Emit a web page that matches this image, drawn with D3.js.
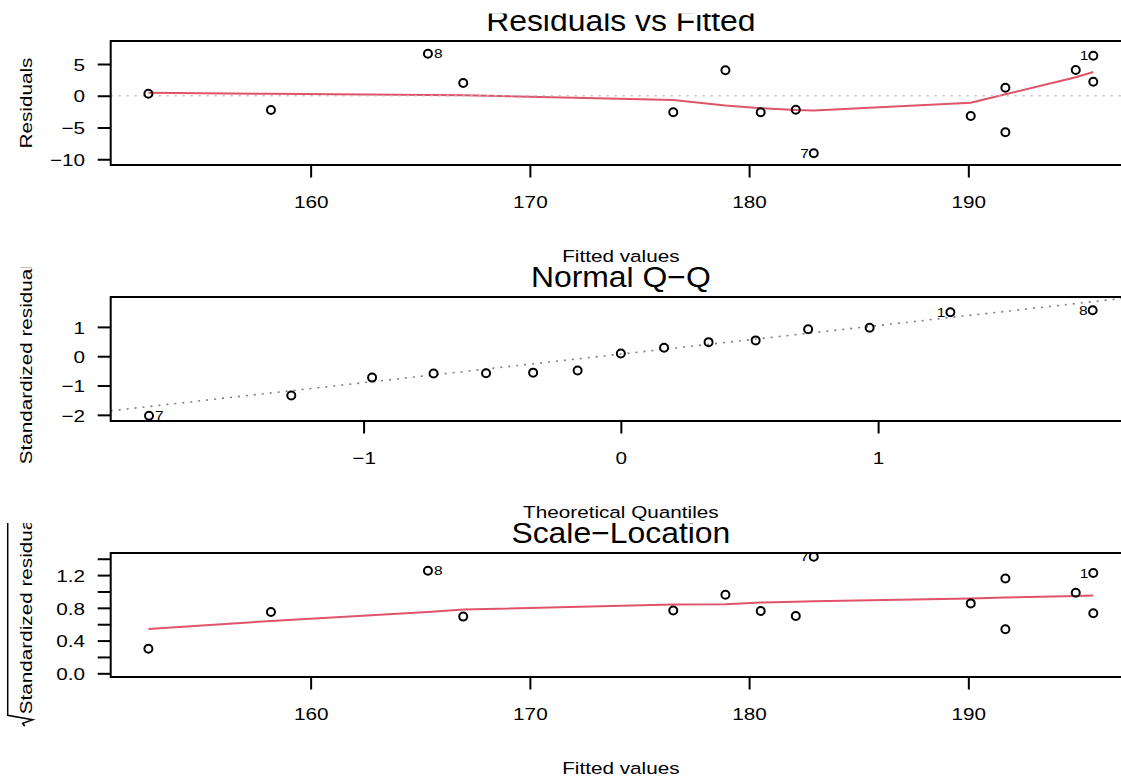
<!DOCTYPE html>
<html>
<head>
<meta charset="utf-8">
<script src="https://cdn.jsdelivr.net/npm/d3@7"></script>
<style>
  body { margin: 0; background: #fff; }
  svg { display: block; }
</style>
</head>
<body>
<svg id="chart" width="1121" height="779"></svg>
<script>
// ---- Regression diagnostics for a 15-observation linear model ----
// Observations ordered by fitted value.
const fitted       = [152.60, 158.19, 165.35, 166.96, 176.54, 178.92, 180.53, 182.13, 182.95, 190.11, 191.69, 191.69, 194.90, 195.70, 195.70];
const residuals    = [0.31, -2.25, 6.60, 2.00, -2.61, 3.99, -2.61, -2.20, -9.06, -3.19, 1.26, -5.75, 4.04, 6.29, 2.20];
const stdResiduals = [0.09, -0.56, 1.57, 0.48, -0.59, 0.92, -0.58, -0.49, -2.03, -0.73, 0.29, -1.34, 0.97, 1.50, 0.54];
const pointLabels  = [null, null, "8", null, null, null, null, null, "7", null, null, null, null, "1", null];

// Smoothed trend (lowess) through residuals and through sqrt|std. residuals|
const residSmooth  = [0.47, 0.30, 0.12, 0.08, -0.68, -1.55, -1.98, -2.25, -2.32, -1.10, 0.22, 0.22, 2.89, 3.73, 3.73];
const scaleSmooth  = [0.54, 0.64, 0.75, 0.78, 0.84, 0.845, 0.865, 0.875, 0.88, 0.915, 0.925, 0.925, 0.945, 0.95, 0.95];

// Theoretical normal quantiles for n = 15
const theoQuantiles = [-1.834, -1.281, -0.967, -0.728, -0.524, -0.341, -0.168, 0, 0.168, 0.341, 0.524, 0.728, 0.967, 1.281, 1.834];

// Axis ticks
const fittedTicks = [160, 170, 180, 190];
const residTicks  = [-10, -5, 0, 5];
const qqXTicks    = [-1, 0, 1];
const qqYTicks    = [-2, -1, 0, 1];
const slTicks     = [0, 0.2, 0.4, 0.6, 0.8, 1.0, 1.2, 1.4];
const slLabeled   = [0, 0.4, 0.8, 1.2];

const titles = ["Residuals vs Fitted", "Normal Q\u2212Q", "Scale\u2212Location"];
const xLabels = ["Fitted values", "Theoretical Quantiles", "Fitted values"];

// ---- layout ----
const W = 1121, H = 779;
const FONT = "'Liberation Sans', Arial, Helvetica, sans-serif";
const SX = 1.19;          // horizontal stretch of the lettering
const AX = 17.4;          // axis text size
const plotLeft = 110.7, plotRight = 1131;
const figTops = [13.5, 267, 523];
const panels = [0, 1, 2].map(k => ({
  k,
  top: 41 + 256 * k,
  bottom: 165 + 256 * k,
  figTop: figTops[k],
  figBottom: k === 2 ? H : figTops[k + 1]
}));

const svg = d3.select("#chart");
const defs = svg.append("defs");

function label(g, x, y, s, o = {}) {
  return g.append("text")
    .attr("transform", `translate(${x},${y}) rotate(${o.rotate || 0}) scale(${o.sx || SX},1)`)
    .attr("text-anchor", o.anchor || "middle")
    .attr("font-family", FONT)
    .attr("font-size", o.size || AX)
    .attr("fill", "#000")
    .text(s);
}

function makePanel(p) {
  defs.append("clipPath").attr("id", "fig" + p.k).append("rect")
    .attr("x", 0).attr("y", p.figTop).attr("width", W).attr("height", p.figBottom - p.figTop);
  defs.append("clipPath").attr("id", "plot" + p.k).append("rect")
    .attr("x", plotLeft).attr("y", p.top).attr("width", plotRight - plotLeft).attr("height", p.bottom - p.top);
  const fig = svg.append("g").attr("clip-path", `url(#fig${p.k})`);
  const plot = fig.append("g").attr("clip-path", `url(#plot${p.k})`);
  return { fig, plot };
}

function drawAxes(fig, p, x, y, xt, yt, yFmt) {
  const ax = fig.append("g").attr("transform", `translate(0,${p.bottom})`)
    .call(d3.axisBottom(x).tickValues(xt).tickSize(12.5).tickFormat(d3.format("")));
  ax.select(".domain").remove();
  ax.selectAll(".tick line").attr("stroke", "#000").attr("stroke-width", 2);
  ax.selectAll(".tick text")
    .attr("y", 43).attr("dy", 0)
    .attr("transform", `scale(${SX},1)`)
    .attr("font-family", FONT).attr("font-size", AX).attr("fill", "#000");

  const ay = fig.append("g").attr("transform", `translate(${plotLeft},0)`)
    .call(d3.axisLeft(y).tickValues(yt).tickSize(13).tickFormat(yFmt));
  ay.select(".domain").remove();
  ay.selectAll(".tick line").attr("stroke", "#000").attr("stroke-width", 2);
  ay.selectAll(".tick text")
    .attr("x", 0).attr("dy", "0.358em")
    .attr("transform", `translate(-25.7,0) scale(${SX},1)`)
    .attr("font-family", FONT).attr("font-size", AX).attr("fill", "#000");

  fig.append("rect")
    .attr("x", plotLeft).attr("y", p.top)
    .attr("width", plotRight - plotLeft).attr("height", p.bottom - p.top)
    .attr("fill", "none").attr("stroke", "#000").attr("stroke-width", 2);
}

function drawPoints(plot, pts, x) {
  plot.selectAll(null).data(pts).join("circle")
    .attr("cx", d => d.px).attr("cy", d => d.py).attr("r", 4)
    .attr("fill", "none").attr("stroke", "#000").attr("stroke-width", 2);
  const mid = d3.mean(x.domain());
  pts.filter(d => d.label).forEach(d => {
    const left = d.xv > mid;
    plot.append("text")
      .attr("transform", `translate(${left ? d.px - 5 : d.px + 6},${d.py + 4.7}) scale(${SX},1)`)
      .attr("text-anchor", left ? "end" : "start")
      .attr("font-family", FONT).attr("font-size", 13).attr("fill", "#000")
      .text(d.label);
  });
}

function titlesFor(fig, p) {
  const cx = (plotLeft + plotRight) / 2;
  label(fig, cx, 30.5 + 256 * p.k, titles[p.k], { size: 29, sx: 1.1 });
  label(fig, cx, 262 + 256 * p.k, xLabels[p.k]);
}

const RED = "#DF536B";
const idx = d3.range(fitted.length);

// ---- Panel 1: Residuals vs Fitted ----
{
  const p = panels[0];
  const { fig, plot } = makePanel(p);
  const x = d3.scaleLinear().domain([150.88, 197.42]).range([plotLeft, plotRight]);
  const y = d3.scaleLinear().domain([-10.9, 8.6]).range([p.bottom, p.top]);
  plot.append("path")
    .attr("d", d3.line().x(i => x(fitted[i])).y(i => y(residSmooth[i]))(idx))
    .attr("fill", "none").attr("stroke", RED).attr("stroke-width", 2);
  plot.append("line")
    .attr("x1", plotLeft).attr("x2", plotRight).attr("y1", y(0)).attr("y2", y(0))
    .attr("stroke", "#BEBEBE").attr("stroke-width", 1.6).attr("stroke-dasharray", "2,6");
  drawPoints(plot, idx.map(i => ({ xv: fitted[i], px: x(fitted[i]), py: y(residuals[i]), label: pointLabels[i] })), x);
  drawAxes(fig, p, x, y, fittedTicks, residTicks, d3.format(""));
  titlesFor(fig, p);
  label(fig, 31.7, (p.top + p.bottom) / 2, "Residuals", { rotate: -90 });
}

// ---- Panel 2: Normal Q-Q ----
{
  const p = panels[1];
  const { fig, plot } = makePanel(p);
  const x = d3.scaleLinear().domain([-1.983, 1.983]).range([plotLeft, plotRight]);
  const y = d3.scaleLinear().domain([-2.21, 2.02]).range([p.bottom, p.top]);
  const order = idx.slice().sort((a, b) => stdResiduals[a] - stdResiduals[b]);
  const sorted = order.map(i => stdResiduals[i]);
  // reference line through the first and third quartiles
  const q1 = d3.quantile(sorted, 0.25), q3 = d3.quantile(sorted, 0.75);
  const z = 0.6745;
  const slope = (q3 - q1) / (2 * z), intercept = q1 + slope * z;
  const [x0, x1] = x.domain();
  plot.append("line")
    .attr("x1", x(x0)).attr("x2", x(x1))
    .attr("y1", y(intercept + slope * x0)).attr("y2", y(intercept + slope * x1))
    .attr("stroke", "#7F7F7F").attr("stroke-width", 1.6).attr("stroke-dasharray", "2,6");
  drawPoints(plot, order.map((i, r) => ({ xv: theoQuantiles[r], px: x(theoQuantiles[r]), py: y(stdResiduals[i]), label: pointLabels[i] })), x);
  drawAxes(fig, p, x, y, qqXTicks, qqYTicks, d3.format(""));
  titlesFor(fig, p);
  label(fig, 31.7, (p.top + p.bottom) / 2, "Standardized residuals", { rotate: -90 });
}

// ---- Panel 3: Scale-Location ----
{
  const p = panels[2];
  const { fig, plot } = makePanel(p);
  const x = d3.scaleLinear().domain([150.88, 197.42]).range([plotLeft, plotRight]);
  const y = d3.scaleLinear().domain([-0.045, 1.47]).range([p.bottom, p.top]);
  const rootAbs = stdResiduals.map(v => Math.sqrt(Math.abs(v)));
  plot.append("path")
    .attr("d", d3.line().x(i => x(fitted[i])).y(i => y(scaleSmooth[i]))(idx))
    .attr("fill", "none").attr("stroke", RED).attr("stroke-width", 2);
  drawPoints(plot, idx.map(i => ({ xv: fitted[i], px: x(fitted[i]), py: y(rootAbs[i]), label: pointLabels[i] })), x);
  const fmt = d3.format(".1f");
  drawAxes(fig, p, x, y, fittedTicks, slTicks, d => slLabeled.includes(d) ? fmt(d) : "");
  titlesFor(fig, p);

  // y label: radical sign over "Standardized residuals"
  const g = fig.append("g").attr("transform", `translate(31.7,${(p.top + p.bottom) / 2}) rotate(-90)`);
  const body = g.append("text")
    .attr("font-family", FONT).attr("font-size", AX).attr("fill", "#000")
    .text("Standardized residuals");
  const bw = body.node().getComputedTextLength() * SX;
  const rad = 12, u0 = -(rad + bw) / 2;
  body.attr("transform", `translate(${u0 + rad},0) scale(${SX},1)`);
  g.append("path")
    .attr("d", `M${u0},-7 L${u0 + 3},-9 L${u0 + 6.5},1 L${u0 + 11},-24 L${u0 + rad + bw + 2},-24`)
    .attr("fill", "none").attr("stroke", "#000").attr("stroke-width", 1.5);
}
</script>
</body>
</html>
